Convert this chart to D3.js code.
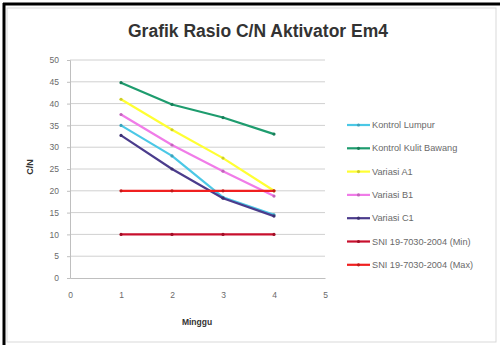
<!DOCTYPE html>
<html><head><meta charset="utf-8">
<script src="https://cdn.jsdelivr.net/npm/d3@7/dist/d3.min.js"></script>
<style>body{margin:0;background:#fff}svg{display:block}</style>
</head><body>
<script>
const weeks = [1, 2, 3, 4];
const seriesNames = ["Kontrol Lumpur","Kontrol Kulit Bawang","Variasi A1","Variasi B1","Variasi C1","SNI 19-7030-2004 (Min)","SNI 19-7030-2004 (Max)"];
const kontrolLumpur = [35, 28, 18.5, 14.5];
const kontrolKulitBawang = [44.8, 39.8, 36.8, 33];
const variasiA1 = [41, 34, 27.5, 20];
const variasiB1 = [37.5, 30.5, 24.5, 18.8];
const variasiC1 = [32.7, 25, 18.3, 14.2];
const sniMin = [10, 10, 10, 10];
const sniMax = [20, 20, 20, 20];
const colors = ["#4BC8E6","#1E9C6E","#FFFF33","#F07CE8","#4B3C8C","#C8102E","#F02020"];
const xTicks = [0,1,2,3,4,5];
const yTicks = [0,5,10,15,20,25,30,35,40,45,50];

const allSeries = [kontrolLumpur,kontrolKulitBawang,variasiA1,variasiB1,variasiC1,sniMin,sniMax];
const W=500,H=345;
const svg=d3.select("body").append("svg").attr("width",W).attr("height",H);
const font="'Liberation Sans', Arial, sans-serif";
// frame
svg.append("rect").attr("x",0).attr("y",0).attr("width",W).attr("height",H).attr("fill","#fff");
svg.append("line").attr("x1",3).attr("x2",W).attr("y1",4).attr("y2",4).attr("stroke","#000").attr("stroke-width",3);
svg.append("line").attr("x1",4).attr("x2",4).attr("y1",3).attr("y2",H).attr("stroke","#000").attr("stroke-width",3);
svg.append("rect").attr("x",7).attr("y",8).attr("width",489).attr("height",334).attr("fill","none").attr("stroke","#d9d9d9");

const x=d3.scaleLinear().domain([0,5]).range([70,325]);
const y=d3.scaleLinear().domain([0,50]).range([278,60]);

// grid
svg.append("g").selectAll("line").data(yTicks.filter(d=>d>0)).join("line")
 .attr("x1",x(0)).attr("x2",x(5)).attr("y1",d=>y(d)).attr("y2",d=>y(d))
 .attr("stroke","#d0d0d0").attr("stroke-width",1);

const yAxis=svg.append("g").attr("transform",`translate(${x(0)},0)`)
 .call(d3.axisLeft(y).tickValues(yTicks).tickSize(3).tickPadding(8).tickFormat(d3.format("d")));
const xAxis=svg.append("g").attr("transform",`translate(0,${y(0)})`)
 .call(d3.axisBottom(x).tickValues(xTicks).tickSize(0).tickPadding(14).tickFormat(d3.format("d")));
[yAxis,xAxis].forEach(g=>{
  g.selectAll("path,line").attr("stroke","#bfbfbf");
  g.selectAll("text").attr("fill","#6a6a6a").style("font-family",font).style("font-size","8.5px");
});

// lines
const line=d3.line().x((d,i)=>x(weeks[i])).y(d=>y(d));
allSeries.forEach((s,k)=>{
  svg.append("path").datum(s).attr("d",line).attr("fill","none")
   .attr("stroke",colors[k]).attr("stroke-width",2.2).attr("stroke-linejoin","round");
  svg.append("g").selectAll("circle").data(s).join("circle")
   .attr("cx",(d,i)=>x(weeks[i])).attr("cy",d=>y(d)).attr("r",1.6)
   .attr("fill",d3.color(colors[k]).darker(0.6));
});

// title
svg.append("text").attr("x",258).attr("y",37).attr("text-anchor","middle")
 .style("font-family",font).style("font-size","17.5px").style("font-weight","bold").attr("fill","#333")
 .text("Grafik Rasio C/N Aktivator Em4");
svg.append("text").attr("x",197).attr("y",325).attr("text-anchor","middle")
 .style("font-family",font).style("font-size","8.5px").style("font-weight","bold").attr("fill","#333").text("Minggu");
svg.append("text").attr("transform","translate(33,167) rotate(-90)").attr("text-anchor","middle")
 .style("font-family",font).style("font-size","9px").style("font-weight","bold").attr("fill","#333").text("C/N");

// legend
const lg=svg.append("g");
seriesNames.forEach((n,k)=>{
  const ly=125+k*23.3;
  lg.append("line").attr("x1",347).attr("x2",370).attr("y1",ly).attr("y2",ly).attr("stroke",colors[k]).attr("stroke-width",2.2);
  lg.append("circle").attr("cx",358.5).attr("cy",ly).attr("r",1.6).attr("fill",d3.color(colors[k]).darker(0.6));
  lg.append("text").attr("x",372).attr("y",ly+3).style("font-family",font).style("font-size","9.2px").attr("fill","#6a6a6a").text(n);
});
</script>
</body></html>
